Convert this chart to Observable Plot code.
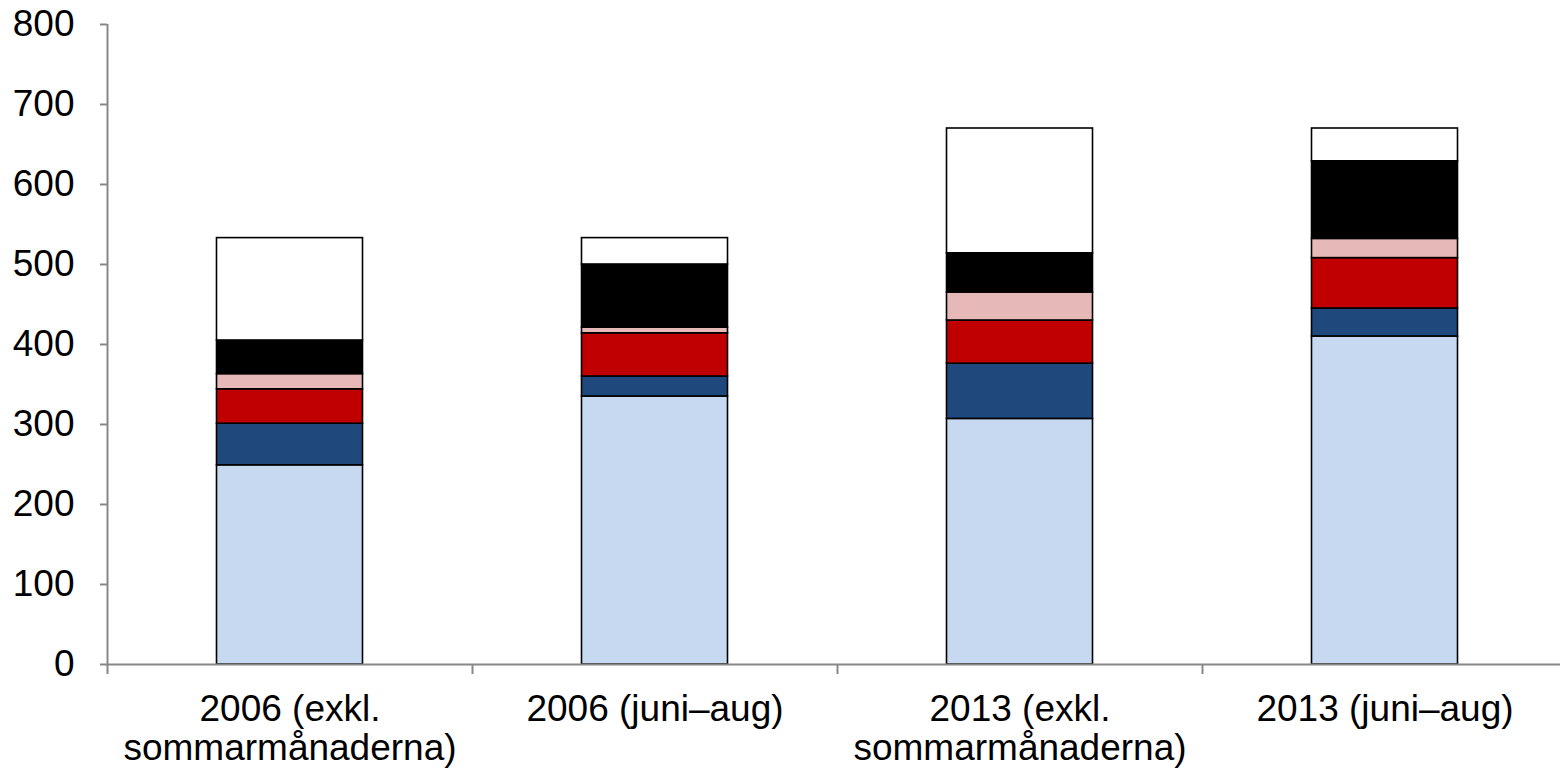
<!DOCTYPE html>
<html>
<head>
<meta charset="utf-8">
<script src="https://cdn.jsdelivr.net/npm/d3@7"></script>
<script src="https://cdn.jsdelivr.net/npm/@observablehq/plot@0.6"></script>
<style>
  html, body { margin: 0; padding: 0; background: #fff; }
  #chart svg { display: block; }
</style>
</head>
<body>
<div id="chart"></div>
<script>
// Categories (x axis labels)
const categories = [
  "2006 (exkl.\nsommarmånaderna)",
  "2006 (juni–aug)",
  "2013 (exkl.\nsommarmånaderna)",
  "2013 (juni–aug)"
];
// Series (bottom to top), values per category
const seriesNames = ["s1", "s2", "s3", "s4", "s5", "s6"];
const s1 = [249, 335, 307, 410];
const s2 = [52, 25, 69, 35];
const s3 = [43, 54, 54, 63];
const s4 = [19, 7, 35, 24];
const s5 = [42, 79, 49, 97];
const s6 = [128, 33, 156, 41];
const seriesColors = ["#C6D9F1", "#1F497D", "#C00000", "#E6B9B8", "#000000", "#FFFFFF"];
const yTicks = [0, 100, 200, 300, 400, 500, 600, 700, 800];

const seriesValues = [s1, s2, s3, s4, s5, s6];
const rows = [];
categories.forEach((c, i) => {
  let base = 0;
  seriesValues.forEach((vals, k) => {
    rows.push({cat: c, i, series: seriesNames[k], y1: base, y2: base + vals[i]});
    base += vals[i];
  });
});
const catIdx = categories.map((c, i) => ({c, i}));
const bounds = d3.range(categories.length + 1);

const gray = "#878787";
const chart = Plot.plot({
  width: 1560,
  height: 770,
  marginTop: 24,
  marginBottom: 106,
  marginLeft: 107,
  marginRight: 0,
  style: {fontFamily: "'Liberation Sans', Arial, sans-serif", background: "#fff"},
  x: {domain: [0, categories.length], range: [107, 1567], axis: null},
  y: {domain: [0, 800], axis: null},
  color: {domain: seriesNames, range: seriesColors},
  marks: [
    Plot.rect(rows, {
      x1: d => d.i, x2: d => d.i + 1, y1: "y1", y2: "y2",
      fill: "series", stroke: "#000", strokeWidth: 1.6,
      insetLeft: 109.5, insetRight: 109.5
    }),
    Plot.ruleY([0], {stroke: gray, strokeWidth: 2}),
    Plot.ruleX([0], {y1: 0, y2: 800, stroke: gray, strokeWidth: 2}),
    Plot.axisX({ticks: bounds, tickSize: 10, tickFormat: () => "", stroke: gray, strokeWidth: 2, strokeOpacity: 1, label: null}),
    Plot.axisY({ticks: yTicks, tickSize: 7, tickPadding: 26, fontSize: 37, stroke: gray, strokeWidth: 2, strokeOpacity: 1, color: "#000", label: null, tickFormat: d => String(d)}),
    Plot.text(catIdx, {
      x: d => d.i + 0.5, y: 0, text: "c",
      lineAnchor: "top", dy: 29, fontSize: 37, fill: "#000", lineHeight: 1.05
    })
  ]
});
document.getElementById("chart").appendChild(chart);
</script>
</body>
</html>
